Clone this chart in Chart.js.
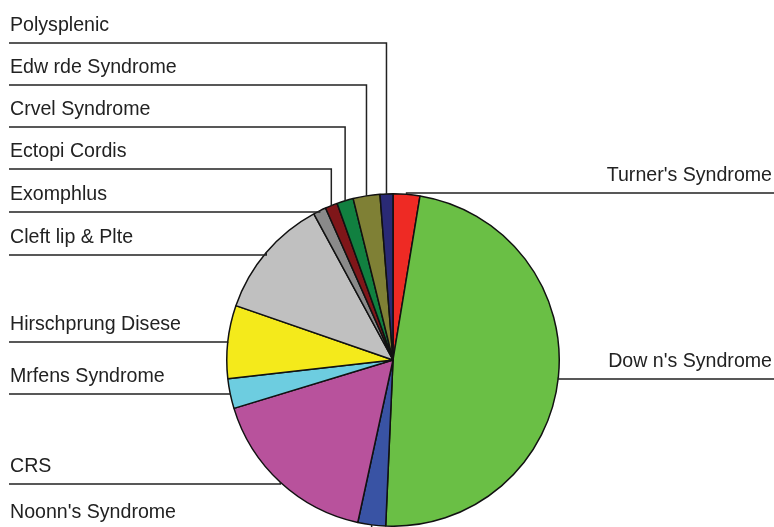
<!DOCTYPE html>
<html>
<head>
<meta charset="utf-8">
<script src="https://cdn.jsdelivr.net/npm/chart.js@4.4.1/dist/chart.umd.min.js"></script>
<style>
  html,body{margin:0;padding:0;background:#fff;overflow:hidden}
  #wrap{position:relative;width:774px;height:527px}
</style>
</head>
<body>
<div id="wrap"><canvas id="pie" width="774" height="527"></canvas></div>
<script>
// === DATA (clockwise from 12 o'clock) ===
const labels = ["Turner's Syndrome","Dow n's Syndrome","Noonn's Syndrome","CRS","Mrfens Syndrome",
  "Hirschprung Disese","Cleft lip & Plte","Exomphlus","Ectopi Cordis","Crvel Syndrome",
  "Edw rde Syndrome","Polysplenic"];
const values = [2.6, 48.1, 2.7, 16.9, 2.9, 7.1, 11.8, 1.25, 1.2, 1.6, 2.6, 1.25];
const colors = ['#ee2a24','#6abf45','#3953a4','#b8529c','#6dcde0','#f4ea1b',
  '#c0c0c0','#8a8a8a','#7f1619','#118040','#7f8035','#2a2a75'];

// === LABEL LAYOUT ===
const lineY = [193, 379, 530, 484, 394, 342, 255, 212, 169, 127, 85, 43];
const side  = ['r','r','l','l','l','l','l','l','l','l','l','l'];

const leaderLabels = {
  id:'leaderLabels',
  afterDatasetsDraw(chart) {
    const ctx = chart.ctx;
    const arcs = chart.getDatasetMeta(0).data;
    ctx.save();
    ctx.strokeStyle = '#222';
    ctx.lineWidth = 1.5;
    ctx.fillStyle = '#222';
    ctx.font = '19.6px "Liberation Sans", Arial, sans-serif';
    ctx.textBaseline = 'alphabetic';
    arcs.forEach((arc, i) => {
      const p = arc.getProps(['x','y','startAngle','endAngle','outerRadius']);
      const mid = (p.startAngle + p.endAngle) / 2;
      const ax = p.x + Math.cos(mid) * p.outerRadius;
      const ay = p.y + Math.sin(mid) * p.outerRadius;
      const ly = lineY[i];
      ctx.beginPath();
      ctx.moveTo(ax, ay);
      ctx.lineTo(ax, ly);
      ctx.lineTo(side[i] === 'l' ? 9 : 774, ly);
      ctx.stroke();
      if (side[i] === 'l') {
        ctx.textAlign = 'left';
        ctx.fillText(labels[i], 10, ly - 12.5);
      } else {
        ctx.textAlign = 'right';
        ctx.fillText(labels[i], 772, ly - 12.5);
      }
    });
    ctx.restore();
  }
};

new Chart(document.getElementById('pie'), {
  type:'pie',
  data:{labels, datasets:[{data:values, backgroundColor:colors,
    borderColor:'#111', borderWidth:1.5}]},
  options:{responsive:false, animation:false, devicePixelRatio:1,
    layout:{padding:{left:226, right:214, top:193, bottom:0}},
    plugins:{legend:{display:false}, tooltip:{enabled:false}}},
  plugins:[leaderLabels]
});
</script>
</body>
</html>
